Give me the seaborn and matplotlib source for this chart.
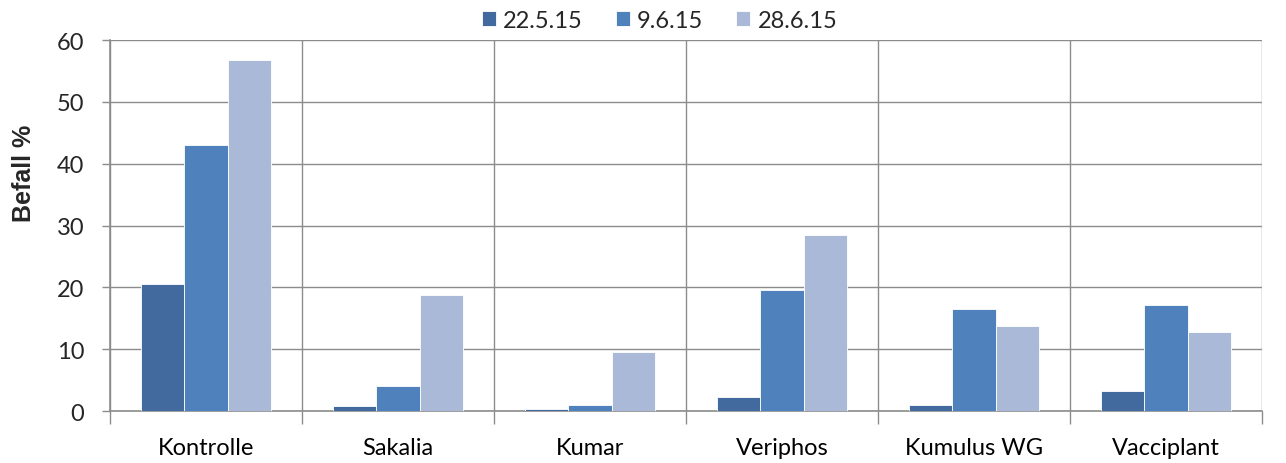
import matplotlib
matplotlib.use("Agg")
import matplotlib.pyplot as plt
import seaborn as sns
import pandas as pd
import numpy as np

categories = ["Kontrolle", "Sakalia", "Kumar", "Veriphos", "Kumulus WG", "Vacciplant"]
dates = ["22.5.15", "9.6.15", "28.6.15"]
befall_22_5 = [20.5, 0.8, 0.4, 2.3, 1.0, 3.2]
befall_9_6 = [43.0, 4.0, 1.0, 19.5, 16.5, 17.2]
befall_28_6 = [56.8, 18.8, 9.5, 28.5, 13.8, 12.8]
colors = ["#426A9E", "#4F81BD", "#AAB9D7"]

df = pd.DataFrame({
    "Variante": categories * 3,
    "Datum": np.repeat(dates, len(categories)),
    "Befall": befall_22_5 + befall_9_6 + befall_28_6,
})

sns.set_theme(style="white")
plt.rcParams["font.family"] = ["Lato", "DejaVu Sans"]

fig = plt.figure(figsize=(12.86, 4.64), dpi=100)
ax = fig.add_axes([0.0855, 0.112, 0.8958, 0.7996])

sns.barplot(data=df, x="Variante", y="Befall", hue="Datum", order=categories,
            hue_order=dates, palette=colors, width=0.68, saturation=1,
            edgecolor="white", linewidth=0.6, ax=ax, zorder=3)

grid_c = "#8C8C8C"
ax.set_xlim(-0.5, len(categories) - 0.5)
ax.set_ylim(0, 60)
ax.set_yticks(range(0, 61, 10))
ax.yaxis.grid(True, color=grid_c, linewidth=1)
ax.set_xticks(np.arange(-0.5, len(categories)), minor=True)
ax.xaxis.grid(True, which="minor", color=grid_c, linewidth=1)
ax.xaxis.grid(False, which="major")
ax.set_axisbelow(True)

for s in ["top", "right"]:
    ax.spines[s].set_visible(False)
for s in ["left", "bottom"]:
    ax.spines[s].set_color(grid_c)
    ax.spines[s].set_linewidth(1.2)

ax.tick_params(axis="x", which="major", length=0, pad=19, labelsize=17, colors="black")
ax.tick_params(axis="x", which="minor", length=9, width=1, color=grid_c, direction="out", bottom=True)
ax.tick_params(axis="y", length=5.5, width=1, color=grid_c, direction="out", left=True, labelsize=17, pad=13)

ax.set_xlabel("")
ax.set_ylabel("Befall %", fontsize=18, fontweight="bold", family="Liberation Sans")
ax.yaxis.set_label_coords(-0.064, 0.644)

ax.legend(loc="lower center", bbox_to_anchor=(0.477, 1.0), ncol=3, frameon=False,
          fontsize=17, handlelength=0.6, handleheight=0.6, handletextpad=0.3,
          columnspacing=1.4, borderaxespad=0.0)

fig.savefig("out.png", dpi=100)
